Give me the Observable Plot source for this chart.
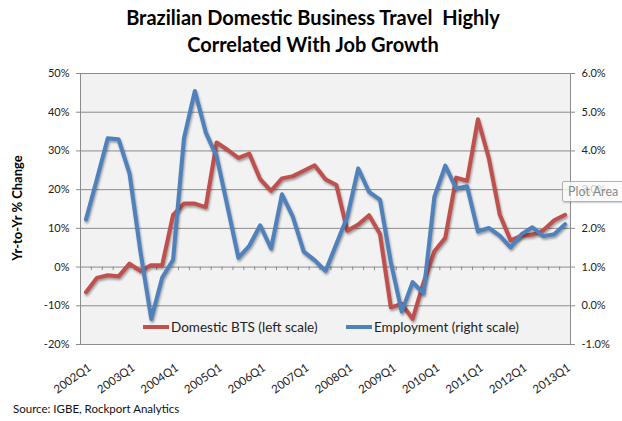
<!DOCTYPE html>
<html><head><meta charset="utf-8">
<script src="https://cdn.jsdelivr.net/npm/d3@7"></script>
<script src="https://cdn.jsdelivr.net/npm/@observablehq/plot@0.6"></script>
<style>
body{margin:0;background:#fff;font-family:Lato,"Open Sans",sans-serif;}
#wrap{position:relative;width:622px;height:421px;overflow:hidden;}
#title{position:absolute;left:0;top:4px;width:626px;text-align:center;font-weight:bold;font-size:20px;line-height:27px;color:#000;}
#chart{position:absolute;left:0;top:60px;}
#ytitle{position:absolute;left:17px;top:208px;transform:translate(-50%,-50%) rotate(-90deg);white-space:nowrap;font-weight:bold;font-size:13px;color:#000;}
.sw{position:absolute;height:4px;width:26px;}
.lg{position:absolute;font-size:13.5px;line-height:16px;color:#222;white-space:nowrap;}
#source{position:absolute;left:13px;top:402px;font-size:11.5px;color:#111;}
#tip{position:absolute;left:562px;top:181px;width:70px;height:19px;background:rgba(250,250,250,0.78);border:1px solid #b0b0b0;border-radius:2px;font-size:12.5px;line-height:19px;color:#8a8a8a;padding-left:5px;box-shadow:1px 1px 2px rgba(0,0,0,0.2);}
#chart svg g[aria-label="line"]{filter:drop-shadow(1.5px 2px 1.2px rgba(0,0,0,0.35));}
</style>
</head><body>
<div id="wrap">
  <div id="title">Brazilian Domestic Business Travel&nbsp; Highly<br>Correlated With Job Growth</div>
  <div id="chart"></div>
  <div id="ytitle">Yr-to-Yr % Change</div>
  <div class="sw" style="left:143px;top:325px;background:#c0504d"></div>
  <div class="lg" style="left:171px;top:319px">Domestic BTS (left scale)</div>
  <div class="sw" style="left:346px;top:325px;background:#4f81bd"></div>
  <div class="lg" style="left:374px;top:319px">Employment (right scale)</div>
  <div id="tip">Plot Area</div>
  <div id="source">Source: IGBE, Rockport Analytics</div>
</div>
<script>
const quarters = [
  "2002Q1","2002Q2","2002Q3","2002Q4","2003Q1","2003Q2","2003Q3","2003Q4",
  "2004Q1","2004Q2","2004Q3","2004Q4","2005Q1","2005Q2","2005Q3","2005Q4",
  "2006Q1","2006Q2","2006Q3","2006Q4","2007Q1","2007Q2","2007Q3","2007Q4",
  "2008Q1","2008Q2","2008Q3","2008Q4","2009Q1","2009Q2","2009Q3","2009Q4",
  "2010Q1","2010Q2","2010Q3","2010Q4","2011Q1","2011Q2","2011Q3","2011Q4",
  "2012Q1","2012Q2","2012Q3","2012Q4","2013Q1"];
// Domestic BTS, yr-to-yr % change (left scale)
const bts = [
  -6.5,-2.8,-2.1,-2.4, 0.9,-1.0, 0.5, 0.5,
  13.5,16.4,16.4,15.5, 32.2,30.3,28.2,29.3,
  22.7,19.7,22.9,23.5, 24.9,26.3,22.7,21.2,
  9.4,11.0,13.4,8.6, -10.4,-9.5,-13.4,-4.0,
  4.1,7.6,23.1,22.3, 38.2,28.1,13.6,6.9,
  8.1,8.4,9.5,12.1, 13.5];
// Employment, yr-to-yr % change (right scale)
const employment = [
  2.23,3.27,4.33,4.30, 3.42,1.40,-0.34,0.73,
  1.19,4.33,5.55,4.48, 3.86,2.56,1.24,1.55,
  2.08,1.48,2.88,2.30, 1.40,1.18,0.90,1.60,
  2.30,3.55,2.94,2.74, 1.12,-0.15,0.61,0.32,
  2.82,3.62,3.03,3.09, 1.92,2.01,1.81,1.51,
  1.85,2.03,1.80,1.85, 2.11];
const leftTicks = [-20,-10,0,10,20,30,40,50];
const rightTicks = [-1,0,1,2,3,4,5,6];
const xTickLabels = ["2002Q1","2003Q1","2004Q1","2005Q1","2006Q1","2007Q1","2008Q1","2009Q1","2010Q1","2011Q1","2012Q1","2013Q1"];

// right scale [-1,6] maps onto left scale [-20,50]
const rightToLeft = d3.scaleLinear().domain([-1, 6]).range([-20, 50]);
const leftToRight = rightToLeft.invert;

const rows = quarters.map((q, i) => ({i, q, bts: bts[i], emp: rightToLeft(employment[i])}));
const boundaries = d3.range(quarters.length + 1).map(k => k - 0.5);
const labelIdx = xTickLabels.map(l => quarters.indexOf(l));

const grid = "#8c8c8c";
const plot = Plot.plot({
  width: 622, height: 340,
  marginTop: 13, marginBottom: 56, marginLeft: 80, marginRight: 52,
  style: {fontFamily: "Lato, 'Open Sans', sans-serif", fontSize: "11px", color: "#222", background: "transparent", overflow: "visible"},
  x: {type: "linear", domain: [-0.5, quarters.length - 0.5]},
  y: {domain: [-20, 50]},
  marks: [
    Plot.frame({fill: "#f2f2f2"}),
    Plot.ruleY(leftTicks, {stroke: grid, strokeWidth: 1}),
    Plot.ruleX(boundaries, {y1: 0, y2: -0.9, stroke: grid}),
    Plot.frame({stroke: grid}),
    Plot.axisY(leftTicks, {anchor: "left", tickSize: 4, tickPadding: 7, stroke: grid, tickFormat: d => d + "%", label: null}),
    Plot.axisY(rightTicks.map(rightToLeft), {anchor: "right", tickSize: 4, tickPadding: 7, stroke: grid, tickFormat: d => (Math.round(leftToRight(d) * 10) / 10 + 0).toFixed(1) + "%", label: null}),
    Plot.axisX(labelIdx, {anchor: "bottom", tickSize: 0, tickPadding: 22, tickRotate: -35, dx: 4, fontSize: 11.5, tickFormat: i => quarters[i], label: null}),
    Plot.line(rows, {x: "i", y: "bts", stroke: "#c0504d", strokeWidth: 4, strokeLinejoin: "round", strokeLinecap: "round"}),
    Plot.line(rows, {x: "i", y: "emp", stroke: "#4f81bd", strokeWidth: 4, strokeLinejoin: "round", strokeLinecap: "round"})
  ]
});
document.getElementById("chart").append(plot);
</script>
</body></html>
